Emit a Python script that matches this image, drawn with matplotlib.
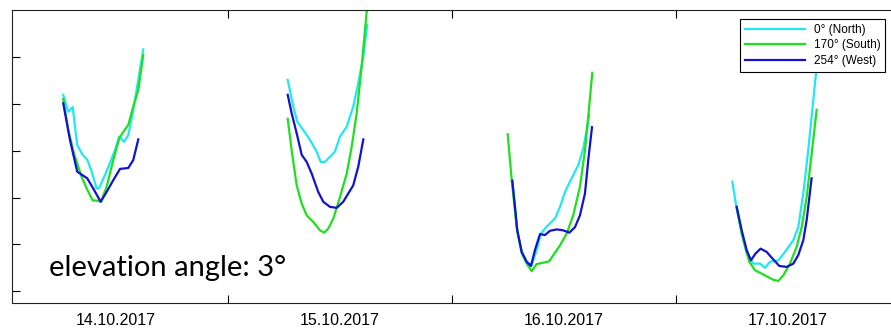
import numpy as np
import matplotlib.pyplot as plt
from matplotlib.ticker import FixedLocator, NullFormatter, FixedFormatter

# time in hours since 14.10.2017 00:00, values in arbitrary units (tick spacing 1)
t_north = [
    [6.35, 6.89, 7.36, 7.85, 8.43, 8.92, 9.40, 9.93, 10.21, 10.82, 11.36, 11.89, 12.35, 12.86, 13.32, 13.85, 14.39, 14.92],
    [30.40, 31.00, 31.42, 32.07, 32.78, 33.50, 33.93, 34.39, 35.46, 36.00, 36.72, 37.42, 37.96, 38.50, 38.92],
    [54.46, 54.75, 54.99, 55.47, 56.00, 56.54, 57.07, 57.50, 57.96, 58.50, 59.03, 59.57, 60.11, 60.82, 61.53, 62.07, 62.43, 62.68],
    [78.03, 78.50, 79.04, 79.57, 80.28, 81.00, 81.53, 82.07, 82.96, 83.68, 84.57, 85.10, 85.64, 86.17, 86.64, 87.07, 87.32],
]
v_north = [
    [4.19, 3.83, 3.93, 3.12, 2.91, 2.81, 2.55, 2.19, 2.21, 2.48, 2.74, 3.01, 3.30, 3.19, 3.33, 3.87, 4.51, 5.16],
    [4.51, 3.94, 3.62, 3.44, 3.23, 2.98, 2.76, 2.76, 2.98, 3.30, 3.51, 3.94, 4.44, 5.01, 5.68],
    [2.36, 1.80, 1.30, 0.84, 0.63, 0.56, 0.88, 1.22, 1.34, 1.45, 1.55, 1.80, 2.12, 2.41, 2.69, 3.05, 3.44, 3.76],
    [2.34, 1.77, 1.23, 0.81, 0.59, 0.59, 0.50, 0.63, 0.66, 0.84, 1.09, 1.37, 2.09, 3.01, 3.94, 4.79, 5.36],
]

t_south = [
    [6.35, 6.89, 7.50, 8.32, 8.92, 9.50, 10.10, 10.39, 11.00, 11.71, 12.35, 12.78, 13.32, 13.85, 14.39, 14.92],
    [30.40, 30.82, 31.36, 31.90, 32.43, 33.14, 33.86, 34.32, 34.75, 35.28, 36.00, 36.72, 37.25, 37.79, 38.32, 38.90],
    [53.97, 54.40, 54.93, 55.47, 56.00, 56.54, 57.07, 57.78, 58.42, 58.85, 59.57, 60.29, 60.99, 61.71, 62.25, 62.60, 63.03],
    [78.50, 79.04, 79.85, 80.46, 81.53, 82.36, 82.96, 83.50, 84.21, 84.93, 85.47, 86.00, 86.46, 87.07],
]
v_south = [
    [4.10, 3.44, 2.94, 2.44, 2.17, 1.94, 1.93, 1.91, 2.23, 2.80, 3.26, 3.40, 3.55, 3.94, 4.29, 5.04],
    [3.68, 3.01, 2.26, 1.87, 1.62, 1.48, 1.30, 1.25, 1.34, 1.55, 2.01, 2.51, 3.08, 3.80, 4.79, 6.05],
    [3.35, 2.37, 1.37, 0.81, 0.59, 0.43, 0.58, 0.61, 0.64, 0.77, 0.98, 1.23, 1.62, 2.23, 3.01, 3.72, 4.66],
    [1.80, 1.23, 0.63, 0.45, 0.34, 0.25, 0.22, 0.34, 0.59, 0.95, 1.37, 2.01, 2.80, 3.87],
]

t_west = [
    [6.35, 7.07, 7.85, 8.92, 9.57, 10.36, 11.00, 11.71, 12.43, 13.32, 13.85, 14.39],
    [30.40, 30.82, 31.36, 31.90, 32.43, 32.97, 33.67, 34.21, 34.93, 35.65, 36.35, 37.42, 37.96, 38.50],
    [54.46, 54.75, 54.99, 55.47, 56.00, 56.46, 56.89, 57.43, 57.96, 58.50, 59.22, 59.92, 60.57, 61.18, 61.71, 62.25, 62.60, 63.00],
    [78.50, 79.04, 79.57, 80.03, 80.54, 81.07, 81.71, 82.42, 83.07, 83.86, 84.57, 85.10, 85.64, 86.00, 86.53],
]
v_west = [
    [4.01, 3.23, 2.55, 2.41, 2.19, 1.91, 2.12, 2.37, 2.61, 2.63, 2.80, 3.24],
    [4.19, 3.80, 3.37, 2.91, 2.76, 2.51, 2.12, 1.91, 1.80, 1.78, 1.91, 2.26, 2.66, 3.24],
    [2.36, 1.80, 1.30, 0.84, 0.63, 0.54, 0.88, 1.22, 1.20, 1.29, 1.32, 1.30, 1.25, 1.37, 1.62, 2.09, 2.80, 3.50],
    [1.80, 1.30, 0.88, 0.66, 0.81, 0.91, 0.84, 0.68, 0.54, 0.52, 0.59, 0.77, 1.09, 1.52, 2.41],
]

day_bounds = [24, 48, 72]
day_centers = [12, 36, 60, 84]
day_labels = ['14.10.2017', '15.10.2017', '16.10.2017', '17.10.2017']

series = [
    ('0° (North)', t_north, v_north, '#20e8f0'),
    ('170° (South)', t_south, v_south, '#1ee01e'),
    ('254° (West)', t_west, v_west, '#1212d2'),
]

fig = plt.figure(figsize=(8.91, 3.30), dpi=100)
ax = fig.add_axes([12 / 891, 27 / 330, 888 / 891, 293 / 330])

for label, ts, vs, col in series:
    for i, (t, v) in enumerate(zip(ts, vs)):
        ax.plot(t, v, color=col, lw=1.6, label=label if i == 0 else None)

ax.set_xlim(0.86, 96)
ax.set_ylim(-0.25, 6.0)

ax.xaxis.set_major_locator(FixedLocator(day_bounds))
ax.xaxis.set_major_formatter(NullFormatter())
ax.xaxis.set_minor_locator(FixedLocator(day_centers))
ax.xaxis.set_minor_formatter(FixedFormatter(day_labels))
ax.set_yticks([0, 1, 2, 3, 4, 5])
ax.set_yticklabels([])

ax.tick_params(axis='x', which='major', direction='in', length=6, width=0.8, top=True, bottom=True)
ax.tick_params(axis='x', which='minor', length=0, pad=7, labelsize=11.5)
ax.tick_params(axis='y', direction='in', length=6, width=0.8, left=True, right=False)
for lab in ax.xaxis.get_minorticklabels():
    lab.set_family('Liberation Sans')
for sp in ax.spines.values():
    sp.set_linewidth(0.8)
    sp.set_color('#222222')

leg = ax.legend(loc='upper right', bbox_to_anchor=(885 / 891, 311 / 330),
                bbox_transform=fig.transFigure, borderaxespad=0,
                prop={'family': 'Liberation Sans', 'size': 8.5},
                handlelength=5.1, handletextpad=0.7, labelspacing=0.3,
                borderpad=0.4, fancybox=False, framealpha=1)
leg.get_frame().set_edgecolor('black')
leg.get_frame().set_linewidth(0.8)

fig.text(49 / 891, 54 / 330, 'elevation angle: 3°', family='Lato', fontsize=21,
         ha='left', va='baseline')

fig.savefig('out.png', dpi=100)
